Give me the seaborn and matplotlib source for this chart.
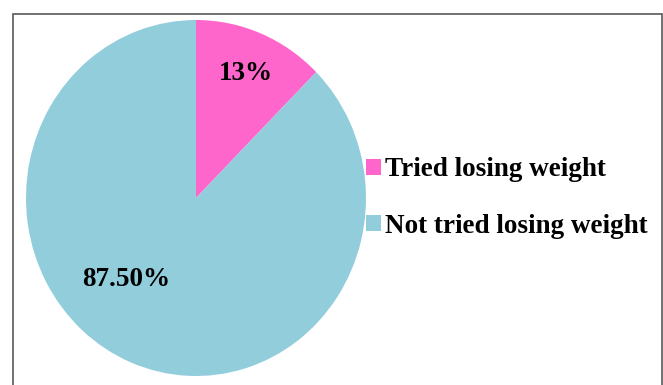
import matplotlib.pyplot as plt
import seaborn as sns
from matplotlib.patches import Rectangle

# データ
categories = ["Tried losing weight", "Not tried losing weight"]
shares = [12.5, 87.5]
slice_labels = ["13%", "87.50%"]
colors = ["#FF66CC", "#92CDDC"]

sns.set_theme(style="white")
plt.rcParams["font.family"] = ["Liberation Serif", "DejaVu Serif"]

fig = plt.figure(figsize=(6.63, 3.85), dpi=100)

# 外枠 (下辺は切れている)
frame = Rectangle((13 / 663, -0.05), 649 / 663, 1.05 - 14 / 385, transform=fig.transFigure,
                  fill=False, edgecolor="#595959", linewidth=1.2)
fig.patches.append(frame)

# 円グラフ (少し縦長)
rx, ry = 170, 178
cx, cy = 196, 198
ax = fig.add_axes([(cx - rx) / 663, 1 - (cy + ry) / 385, 2 * rx / 663, 2 * ry / 385])
wedges, texts = ax.pie(shares, colors=colors, startangle=90, counterclock=False,
                       labels=slice_labels, labeldistance=0.76,
                       textprops=dict(fontsize=19.5, fontweight="bold", color="black"),
                       wedgeprops=dict(linewidth=0))
texts[1].set_position((-0.41, -0.46))
for t in texts:
    t.set_ha("center")
    t.set_va("center")
ax.set_xlim(-1, 1)
ax.set_ylim(-1, 1)
ax.set_aspect("auto")
ax.axis("off")

# 凡例
leg = fig.legend(wedges, categories, loc="center left", bbox_to_anchor=(342 / 663, 1 - 198 / 385),
                 frameon=False, handlelength=0.55, handleheight=0.55, handletextpad=0.15,
                 labelspacing=1.15, prop=dict(size=19.5, weight="bold"))
for t in leg.get_texts():
    t.set_color("black")

plt.savefig("out.png", dpi=100)
